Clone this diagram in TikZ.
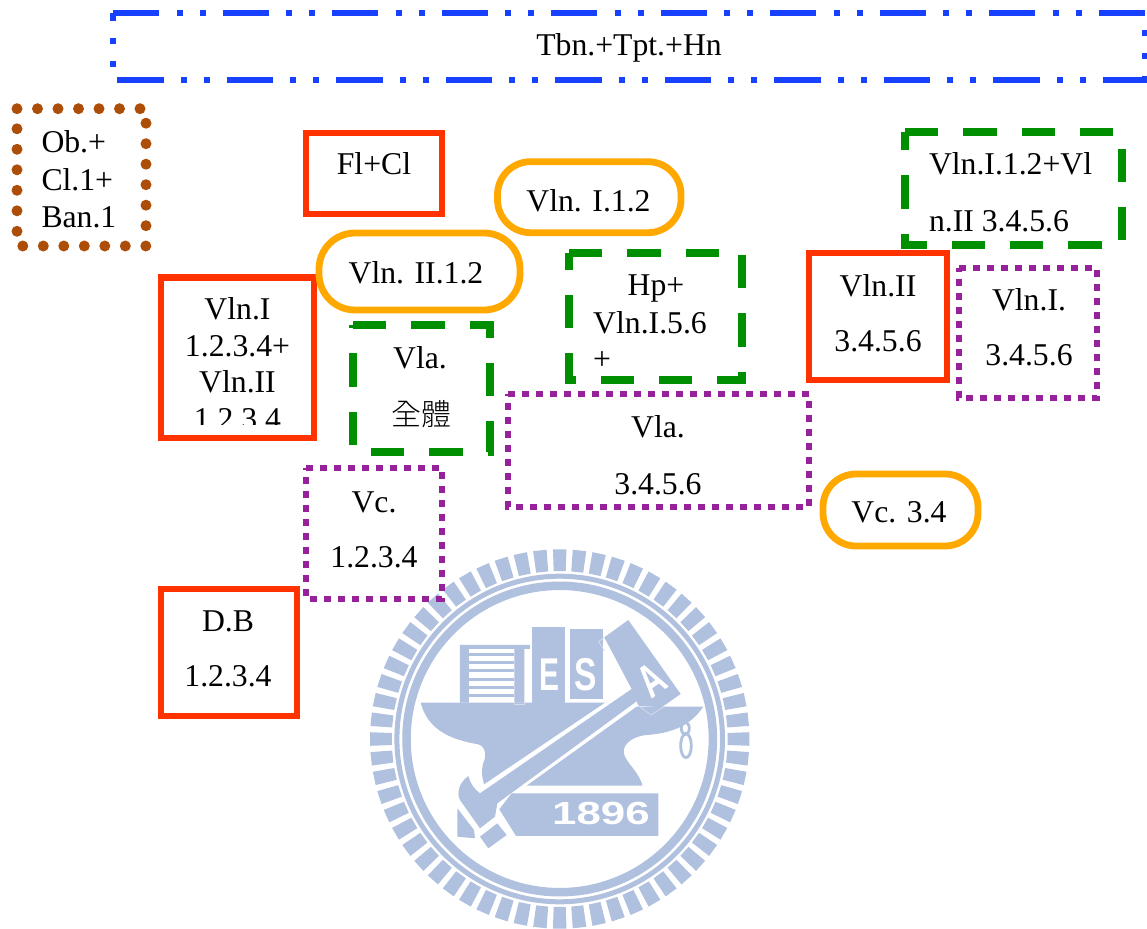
\documentclass[tikz,border=0pt]{standalone}
\usepackage{fontspec}
\setmainfont{Liberation Serif}
\newfontfamily\cjk[UprightFont={* Light}]{Noto Sans CJK TC}
\newfontfamily\logofont{Liberation Sans}
\definecolor{cred}{HTML}{FF3300}
\definecolor{corange}{HTML}{FFA800}
\definecolor{cgreen}{HTML}{008F00}
\definecolor{cblue}{HTML}{1741FF}
\definecolor{cpurple}{HTML}{96219B}
\definecolor{cbrown}{HTML}{AD4E08}
\definecolor{clogo}{HTML}{B0C0DF}
\definecolor{cghost}{HTML}{D2DCEE}
\tikzset{
  lbl/.style={anchor=base,inner sep=0pt,outer sep=0pt,text=black,font=\fontsize{31.7}{36}\selectfont},
  lbll/.style={lbl,anchor=base west},
  redbox/.style={draw=cred,line width=6.2pt,miter limit=10},
  orangebox/.style={draw=corange,line width=6.8pt},
  greenbox/.style={draw=cgreen,line width=8pt,dash pattern=on 33.3pt off 25pt},
  purplebox/.style={draw=cpurple,line width=6.7pt,dash pattern=on 6.7pt off 7.3pt},
  brownbox/.style={draw=cbrown,line width=11pt,line cap=round,dash pattern=on 0pt off 20.5pt},
  bluebox/.style={draw=cblue,line width=6.2pt,dash pattern=on 46.2pt off 17.3pt on 6pt off 17pt on 6pt off 17pt},
  logotext/.style={inner sep=0pt,text=white,transform shape,font=\logofont\bfseries\fontsize{46}{46}\selectfont},
}
\begin{document}
\begin{tikzpicture}[x=1pt,y=-1pt]
\useasboundingbox (0,0) rectangle (1147,928);
\fill[white] (0,0) rectangle (1147,928);
% ---------- watermark seal ----------
\begin{scope}[shift={(559.7,739)}]
  \foreach \a in {0,6,...,354}{
    \fill[clogo] (\a-2.05:168) -- (\a+2.05:168) -- (\a+2.05:189.7) -- (\a-2.05:189.7) -- cycle;
  }
  \draw[clogo,line width=8.5pt] (0,0) circle[radius=153.2];
  \draw[clogo,line width=5pt] (0,0) circle[radius=162.8];
\end{scope}
\begin{scope}[shift={(360,540)},x=0.3333pt,y=-0.3333pt]
  % books
  \fill[clogo] (300,315) -- (510,315) -- (510,327) -- (493,327) -- (493,488) -- (463,488) -- (463,327)
     -- (327,327) -- (327,488) -- (300,488) -- cycle;
  \foreach \yy in {343,368,393,418,443,468}{
    \fill[clogo] (327,\yy-4.5) rectangle (463,\yy+4.5);
  }
  \fill[clogo] (515,260) rectangle (615,488);
  \fill[clogo] (630,268) rectangle (730,478);
  % anvil: upper left part with horn
  \fill[clogo] (182,488) -- (735,488) -- (372,733)
     .. controls (362,695) and (365,680) .. (375,655)
     .. controls (378,630) and (370,618) .. (355,613)
     .. controls (280,600) and (205,575) .. cycle;
  % anvil: lower right part with right horn
  \fill[clogo] (500,737) -- (830,500) -- (1030,500)
     .. controls (990,560) and (930,580) .. (860,585)
     .. controls (810,590) and (780,620) .. (795,650)
     .. controls (810,680) and (835,695) .. (848,737) -- cycle;
  % hammer head block
  \fill[clogo] (733,292) -- (805,240) -- (962,462) -- (905,502) -- (835,497) -- (815,447) -- cycle;
  % handle and head
  \fill[clogo] (815,447) -- (838,478) -- (412,790) -- (405,830) -- (360,865) -- (300,780)
     .. controls (290,760) and (295,730) .. (325,708)
     .. controls (330,730) and (345,750) .. (360,760) -- cycle;
  % small pieces at the end of the handle
  \fill[clogo] (292,805) -- (342,870) -- (345,895) -- (292,890) -- cycle;
  \fill[clogo] (360,890) -- (412,850) -- (440,885) -- (385,925) -- cycle;
  % 1896 tag
  \fill[clogo] (455,760) -- (895,760) -- (895,888) -- (468,888) -- (418,808) -- cycle;
  % the figure eight
  \draw[clogo,line width=2.8pt] (976,565) ellipse[x radius=12,y radius=18];
  \draw[clogo,line width=2.8pt] (978,617) ellipse[x radius=16,y radius=36];
  % faint construction lines
  \draw[cghost,line width=0.8pt] (733,292) -- (716,305) -- (733,332);
  \draw[cghost,line width=0.8pt] (835,497) -- (873,525) -- (912,500);
  \draw[cghost,line width=0.8pt] (463,488) -- (463,493) -- (493,493) -- (493,488);
\end{scope}
\node[logotext,xscale=0.65] (logoE) at (549.5,675) {E};
\node[logotext,xscale=0.73] (logoS) at (586,675) {S};
\node[logotext,rotate=35,xscale=0.68] (logoA) at (651.5,680) {A};
\node[logotext,font=\logofont\bfseries\fontsize{32}{32}\selectfont,xscale=1.37] (logoY) at (601,813.7) {1896};
% ---------- boxes ----------
\draw[bluebox] (113,13) -- (1145,13) -- (1145,80) -- (113,80) -- cycle;
\draw[brownbox] (17,108.7) -- (146,108.7) -- (146,246) -- (17,246) -- cycle;
\draw[redbox] (306,133) -- (442,133) -- (442,214) -- (306,214) -- cycle;
\draw[redbox] (161,277.5) -- (314,277.5) -- (314,438) -- (161,438) -- cycle;
\draw[redbox] (809,253) -- (947,253) -- (947,380) -- (809,380) -- cycle;
\draw[redbox] (161,589) -- (297,589) -- (297,716) -- (161,716) -- cycle;
\draw[orangebox,rounded corners=33pt] (497.5,161.7) rectangle (681,232.7);
\draw[orangebox,rounded corners=36pt] (319,233) rectangle (520,310);
\draw[orangebox,rounded corners=33pt] (823,474) rectangle (978,546);
\draw[greenbox] (905,132.5) -- (1122,132.5) -- (1122,245) -- (905,245) -- cycle;
\draw[greenbox] (353,325) -- (490,325) -- (490,452) -- (353,452) -- cycle;
\draw[greenbox] (569,253) -- (742,253) -- (742,380) -- (569,380) -- cycle;
\draw[purplebox] (959,268) -- (1097,268) -- (1097,398) -- (959,398) -- cycle;
\draw[purplebox] (508,394) -- (809,394) -- (809,507) -- (508,507) -- cycle;
\draw[purplebox] (306,468) -- (442,468) -- (442,599) -- (306,599) -- cycle;
% ---------- labels ----------
\node[lbl] (tbn) at (629,56) {Tbn.+Tpt.+Hn};
\node[lbll] (ob) at (41.5,153) {Ob.+};
\node[lbll] (cl) at (41.5,190) {Cl.1+};
\node[lbll] (ban) at (41.5,227) {Ban.1};
\node[lbl] (flcl) at (374,175) {Fl+Cl};
\node[lbl] (vlnia) at (588.5,211) {Vln. I.1.2};
\node[lbl] (vlniia) at (416,283) {Vln. II.1.2};
\node[lbl] (vi) at (237.5,319) {Vln.I};
\node[lbl] (vib) at (237.5,356) {1.2.3.4+};
\node[lbl] (vii) at (237.5,392) {Vln.II};
\begin{scope}
  \clip (165,400) rectangle (310,424.8);
  \node[lbl] (viib) at (237.5,429.5) {1.2.3.4};
\end{scope}
\node[lbl] (vla) at (420,368) {Vla.};
\node[lbl,font=\cjk\fontsize{30}{36}\selectfont] (vlaall) at (421,425) {全體};
\node[lbl] (hp) at (656,295) {Hp+};
\node[lbl] (hpb) at (650,333) {Vln.I.5.6};
\node[lbll] (hpc) at (593,369) {+};
\node[lbll] (mixa) at (929,175) {Vln.I.1.2+Vl};
\node[lbll] (mixb) at (929,231) {n.II 3.4.5.6};
\node[lbl] (vnii) at (878,296) {Vln.II};
\node[lbl] (vniib) at (878,351) {3.4.5.6};
\node[lbl] (vni) at (1029,310) {Vln.I.};
\node[lbl] (vnib) at (1029,365) {3.4.5.6};
\node[lbl] (vlb) at (658,437) {Vla.};
\node[lbl] (vlbb) at (658,494) {3.4.5.6};
\node[lbl] (vcr) at (899,522) {Vc. 3.4};
\node[lbl] (vc) at (374,512) {Vc.};
\node[lbl] (vcb) at (374,567) {1.2.3.4};
\node[lbl] (db) at (228,631) {D.B};
\node[lbl] (dbb) at (228,686) {1.2.3.4};
\end{tikzpicture}
\end{document}
